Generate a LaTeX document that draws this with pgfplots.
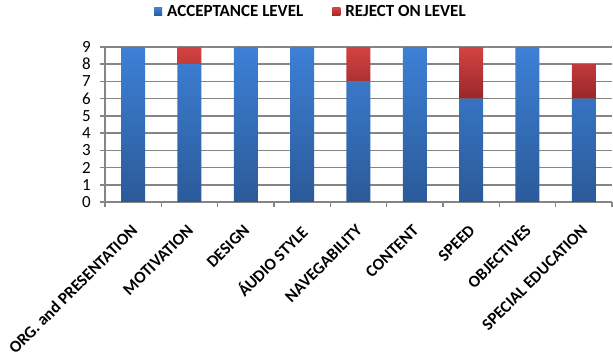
\documentclass[border=0pt]{standalone}
\usepackage{pgfplots}
\pgfplotsset{compat=1.18}
\usepackage{fontspec}
\setmainfont{Carlito}
\definecolor{bluetop}{HTML}{3D80D5}
\definecolor{bluebot}{HTML}{2B5A99}
\definecolor{redtop}{HTML}{D44343}
\definecolor{redbot}{HTML}{982828}
\definecolor{gridg}{HTML}{858585}
\pgfplotsset{sqlegend/.style={legend image code/.code={\fill[##1] (0pt,-4pt) rectangle (8pt,4pt);}}}
\begin{document}
\begin{tikzpicture}
\path[use as bounding box] (-105pt,-153pt) rectangle (508pt,202pt);
\begin{axis}[
  at={(0pt,0pt)}, anchor=south west,
  scale only axis,
  width=507pt, height=155pt,
  ybar stacked, bar width=24pt,
  xmin=-0.5, xmax=8.5, ymin=0, ymax=9,
  xtick={0,...,8},
  xticklabels={ORG. and PRESENTATION, MOTIVATION, DESIGN, ÁUDIO STYLE, NAVEGABILITY, CONTENT, SPEED, OBJECTIVES, SPECIAL EDUCATION},
  major x tick style={draw=none},
  minor xtick={-0.5,0.5,...,8.5},
  minor x tick style={draw=gridg, line width=1.6pt},
  minor tick length=5pt,
  xticklabel style={rotate=45, anchor=north east, font=\bfseries\fontsize{16.7}{16.7}\selectfont, inner sep=0pt, xshift=-14pt, yshift=-9.5pt},
  ytick={0,...,9},
  yticklabel style={font=\fontsize{17}{17}\selectfont, inner sep=0pt, xshift=-9pt},
  /pgf/number format/assume math mode=true,
  ymajorgrids, grid style={draw=gridg, line width=1.6pt},
  major tick length=5pt,
  major y tick style={draw=gridg, line width=1.6pt},
  tick align=outside,
  axis line style={draw=gridg, line width=1.6pt},
  axis x line*=bottom, axis y line*=left,
  separate axis lines,
  x axis line style={-}, y axis line style={-},
  legend style={at={(0.0966,1.226)}, anchor=west, legend columns=2, draw=none, inner xsep=0pt, inner ysep=0pt,
    font=\bfseries\fontsize{17}{17}\selectfont, /tikz/every even column/.append style={column sep=27pt},
    /tikz/every odd column/.append style={column sep=3pt}},
  clip=false,
]
\addplot[draw=none, top color=bluetop, bottom color=bluebot, sqlegend] coordinates {(0,9) (1,8) (2,9) (3,9) (4,7) (5,9) (6,6) (7,9) (8,6)};
\addplot[draw=none, top color=redtop, bottom color=redbot, sqlegend] coordinates {(0,0) (1,1) (2,0) (3,0) (4,2) (5,0) (6,3) (7,0) (8,2)};
\legend{ACCEPTANCE LEVEL, REJECT ON LEVEL}
\end{axis}
\end{tikzpicture}
\end{document}
